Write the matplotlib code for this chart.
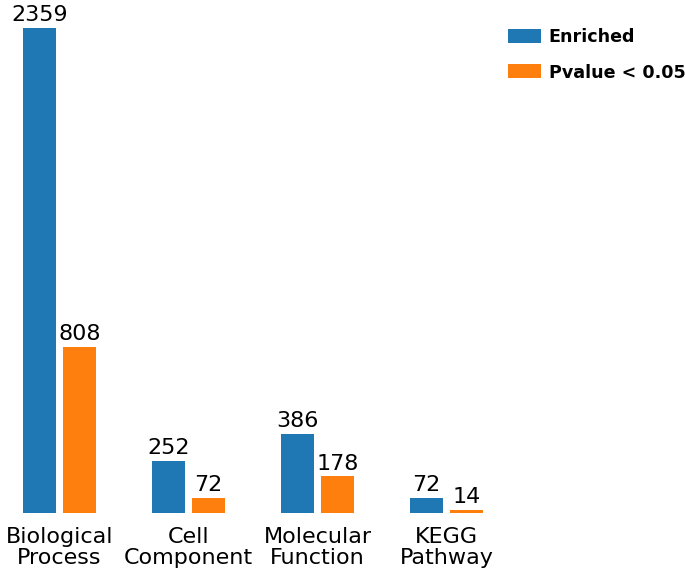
import matplotlib
matplotlib.use("Agg")
import matplotlib.pyplot as plt
import numpy as np

categories = ["Biological\nProcess", "Cell\nComponent", "Molecular\nFunction", "KEGG\nPathway"]
enriched = [2359, 252, 386, 72]
pvalue = [808, 72, 178, 14]

W, H = 685, 573
fig = plt.figure(figsize=(W / 100, H / 100), dpi=100)

# axes placed in pixel terms: baseline at y=513, 1 group = 129 px
ax = fig.add_axes([0, 60 / H, 500 / W, 513 / H])
x = np.arange(len(categories))
bw = 0.255
off = 0.155

b1 = ax.bar(x - off, enriched, bw, color="#1f77b4", label="Enriched")
b2 = ax.bar(x + off, pvalue, bw, color="#ff7f0e", label="Pvalue < 0.05")

for bars in (b1, b2):
    for r in bars:
        ax.annotate(str(int(r.get_height())),
                    (r.get_x() + r.get_width() / 2, r.get_height()),
                    xytext=(0, 2), textcoords="offset points",
                    ha="center", va="bottom", fontsize=16)

ax.set_xlim(-59.5 / 129, (500 - 59.5) / 129)
ax.set_ylim(0, 2359 * 513 / 485)
ax.set_xticks(x)
ax.set_xticklabels(categories, fontsize=16, linespacing=1.07)
ax.tick_params(axis="x", length=0, pad=10)
ax.set_yticks([])
for s in ax.spines.values():
    s.set_visible(False)

fig.legend(loc="upper left", bbox_to_anchor=(508 / W, 1 - 28 / H),
           frameon=False, borderpad=0, borderaxespad=0,
           prop={"weight": "bold", "size": 12.6},
           handlelength=1.9, handleheight=0.85, handletextpad=0.42,
           labelspacing=1.0)

fig.savefig("out.png", dpi=100)
